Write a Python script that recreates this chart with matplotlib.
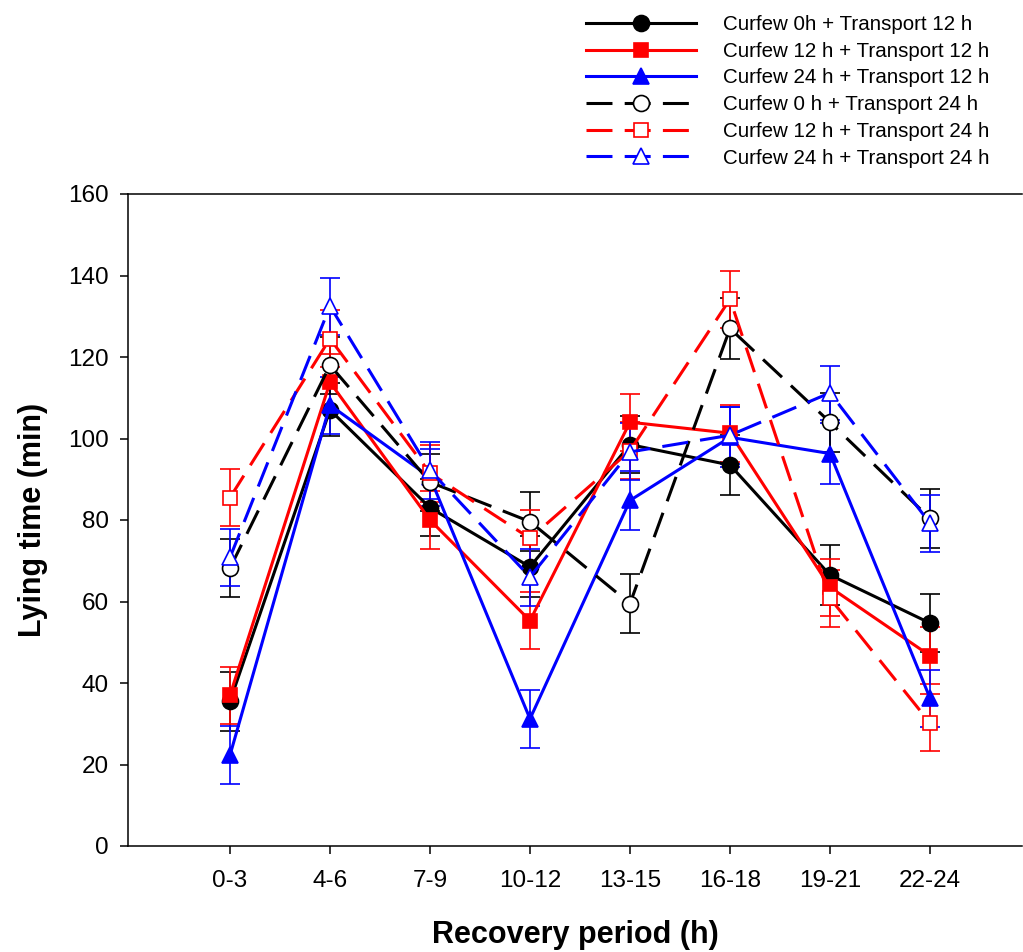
import matplotlib
matplotlib.use("Agg")
import matplotlib.pyplot as plt
import numpy as np

plt.rcParams['font.family'] = ['Liberation Sans', 'DejaVu Sans']

# recovery periods
periods = ['0-3', '4-6', '7-9', '10-12', '13-15', '16-18', '19-21', '22-24']

# lying time means (min)
c0_t12 = [35.5, 107, 83, 68.5, 98.5, 93.5, 66.5, 54.7]
c12_t12 = [37, 113.8, 80, 55.3, 104, 101.3, 63.5, 46.7]
c24_t12 = [22.3, 108.2, 90.5, 31.2, 84.8, 100.3, 96.3, 36.3]
c0_t24 = [68.2, 118, 89.3, 79.6, 59.5, 127, 104, 80.4]
c12_t24 = [85.5, 124.5, 91.5, 75.5, 97, 134.2, 60.8, 30.2]
c24_t24 = [70.8, 132.5, 92.2, 66, 96.7, 100.8, 111.2, 79.2]

# standard errors
se_c0_t12 = [7.2, 6.5, 7, 7.5, 7, 7.3, 7.3, 7.2]
se_c12_t12 = [7, 7, 7, 7, 7, 7, 7, 7]
se_c24_t12 = [7.2, 7, 7, 7.2, 7.3, 7.4, 7.5, 7]
se_c0_t24 = [7.2, 7, 7, 7.3, 7.2, 7.4, 7.2, 7.2]
se_c12_t24 = [7, 7, 7, 7, 7, 7, 7, 7]
se_c24_t24 = [7, 7, 7, 7, 7, 7, 6.7, 7]

labels = ['Curfew 0h + Transport 12 h', 'Curfew 12 h + Transport 12 h',
          'Curfew 24 h + Transport 12 h', 'Curfew 0 h + Transport 24 h',
          'Curfew 12 h + Transport 24 h', 'Curfew 24 h + Transport 24 h']

series = [
    (c0_t12, se_c0_t12, 'black', 'o', True, '-'),
    (c12_t12, se_c12_t12, 'red', 's', True, '-'),
    (c24_t12, se_c24_t12, 'blue', '^', True, '-'),
    (c0_t24, se_c0_t24, 'black', 'o', False, (0, (8.5, 4))),
    (c12_t24, se_c12_t24, 'red', 's', False, (0, (8.5, 4))),
    (c24_t24, se_c24_t24, 'blue', '^', False, (0, (8.5, 4))),
]

fig = plt.figure(figsize=(10.23, 9.52), dpi=100)
ax = fig.add_axes([128/1023, 106/952, 894/1023, 652/952])

x = np.arange(len(periods))
handles = []
for (vals, se, col, mk, filled, ls), lab in zip(series, labels):
    ax.errorbar(x, vals, yerr=se, fmt='none', ecolor=col, elinewidth=1.2,
                capsize=7, capthick=1.2, zorder=2)
    ms = 11.5 if mk != 's' else 10.5
    h, = ax.plot(x, vals, color=col, lw=2.2, ls=ls, marker=mk, markersize=ms,
                 markerfacecolor=col if filled else 'white',
                 markeredgecolor=col, markeredgewidth=1.2, zorder=3, label=lab)
    handles.append(h)

ax.set_xlim(-1.02, 7.92)
ax.set_ylim(0, 160)
ax.set_yticks(range(0, 161, 20))
ax.set_xticks(x)
ax.set_xticklabels(periods)
ax.tick_params(axis='both', direction='out', length=6, width=1.1, labelsize=17.5)
ax.tick_params(axis='y', pad=8)
ax.tick_params(axis='x', pad=11)
for s in ['left', 'bottom', 'top']:
    ax.spines[s].set_linewidth(1.1)
ax.spines['right'].set_visible(False)

ax.set_ylabel('Lying time (min)', fontsize=22, fontweight='bold')
ax.set_xlabel('Recovery period (h)', fontsize=22, fontweight='bold')
ax.yaxis.set_label_coords(-0.089, 0.5)
ax.xaxis.set_label_coords(0.5, -0.114)

fig.legend(handles=handles, loc='upper left', bbox_to_anchor=(586/1023, 1 - 15/952),
           frameon=False, fontsize=14.8, handlelength=5.35, handletextpad=1.3,
           labelspacing=0.375, borderpad=0, borderaxespad=0, markerscale=1.0)

fig.savefig('out.png', dpi=100)
